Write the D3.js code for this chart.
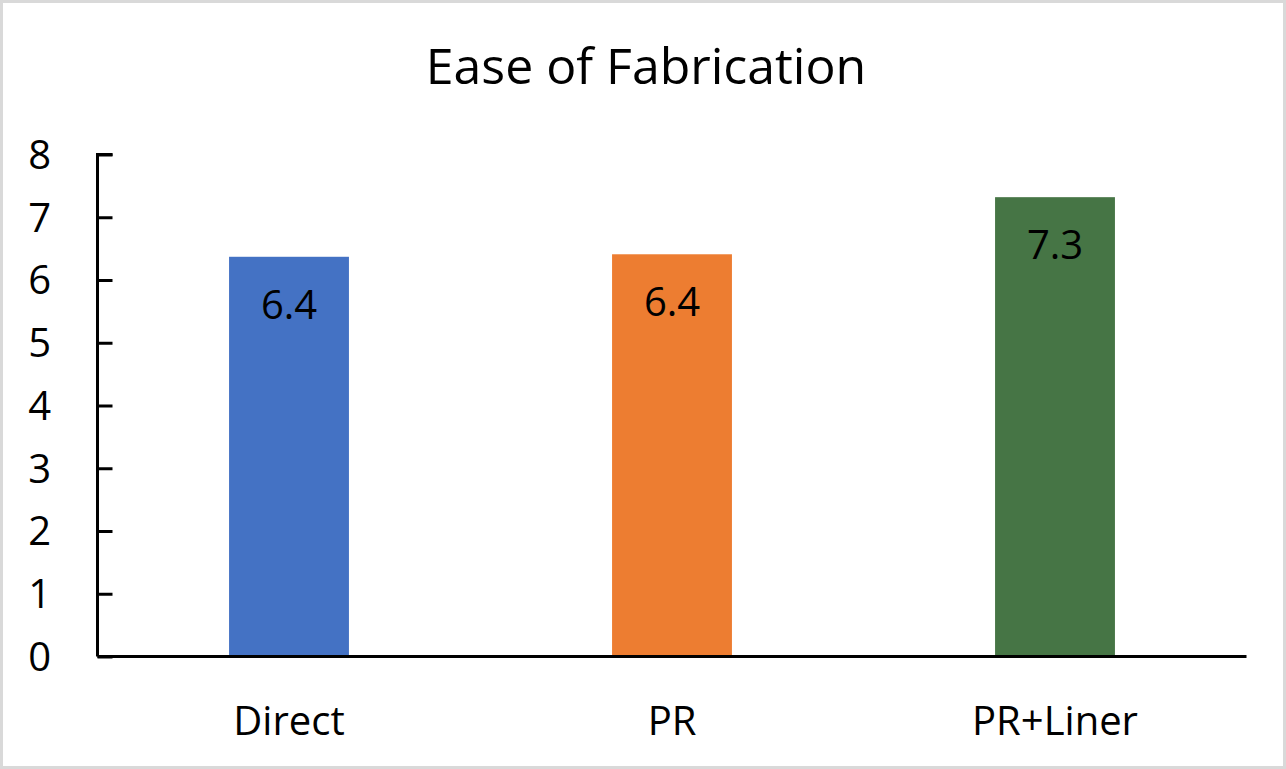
<!DOCTYPE html>
<html>
<head>
<meta charset="utf-8">
<script src="https://cdn.jsdelivr.net/npm/d3@7"></script>
<style>
  html, body { margin: 0; padding: 0; background: #fff; }
  svg { display: block; }
  text { font-family: "Open Sans", "Noto Sans", sans-serif; fill: #000; }
</style>
</head>
<body>
<svg id="chart" width="1286" height="769"></svg>
<script>
const title = "Ease of Fabrication";
const categories = ["Direct", "PR", "PR+Liner"];
const values = [6.37, 6.41, 7.32];
const colors = ["#4472C4", "#ED7D31", "#467545"];
const yTicks = [0, 1, 2, 3, 4, 5, 6, 7, 8];

const W = 1286, H = 769;
const margin = { left: 97.5, right: 39.5, top: 154.5, bottom: 112.5 };
const svg = d3.select("#chart");

// outer border
svg.append("rect")
  .attr("x", 1.5).attr("y", 1.5)
  .attr("width", W - 3).attr("height", H - 3)
  .attr("fill", "#fff").attr("stroke", "#d9d9d9").attr("stroke-width", 3);

const x = d3.scaleBand()
  .domain(categories)
  .range([margin.left, W - margin.right])
  .paddingInner(0.687)
  .paddingOuter(0.3435);

const y = d3.scaleLinear()
  .domain([0, 8])
  .range([H - margin.bottom, margin.top]);

// title
svg.append("text")
  .attr("x", 646).attr("y", 84)
  .attr("text-anchor", "middle")
  .style("font-size", "50px")
  .text(title);

// bars
svg.selectAll("rect.bar")
  .data(values)
  .join("rect")
  .attr("class", "bar")
  .attr("x", (d, i) => x(categories[i]))
  .attr("width", x.bandwidth())
  .attr("y", d => y(d))
  .attr("height", d => y(0) - y(d))
  .attr("fill", (d, i) => colors[i]);

// data labels
svg.selectAll("text.lbl")
  .data(values)
  .join("text")
  .attr("class", "lbl")
  .attr("x", (d, i) => x(categories[i]) + x.bandwidth() / 2)
  .attr("y", d => y(d) + 62)
  .attr("text-anchor", "middle")
  .style("font-size", "40px")
  .text(d => d3.format(".1f")(d));

// y axis
const yAxis = d3.axisRight(y)
  .tickValues(yTicks)
  .tickSize(15)
  .tickFormat("");
const gy = svg.append("g")
  .attr("transform", `translate(${margin.left},0)`)
  .call(yAxis);
gy.select(".domain").attr("stroke", "#000").attr("stroke-width", 3)
  .attr("d", `M15,${y(8)}H0V${y(0)}`);
gy.selectAll(".tick line").attr("stroke", "#000").attr("stroke-width", 3);

// y tick labels
svg.selectAll("text.ytl")
  .data(yTicks)
  .join("text")
  .attr("class", "ytl")
  .attr("x", 51)
  .attr("y", d => y(d))
  .attr("dy", "0.36em")
  .attr("text-anchor", "end")
  .style("font-size", "40px")
  .text(d => d);

// x axis
const gx = svg.append("g")
  .attr("transform", `translate(0,${y(0)})`)
  .call(d3.axisBottom(x).tickSize(0).tickFormat(""));
gx.select(".domain").attr("stroke", "#000").attr("stroke-width", 3)
  .attr("d", `M${margin.left},0H${W - margin.right}`);

// x labels
svg.selectAll("text.xtl")
  .data(categories)
  .join("text")
  .attr("class", "xtl")
  .attr("x", d => x(d) + x.bandwidth() / 2)
  .attr("y", 735)
  .attr("text-anchor", "middle")
  .style("font-size", "40px")
  .text(d => d);
</script>
</body>
</html>
